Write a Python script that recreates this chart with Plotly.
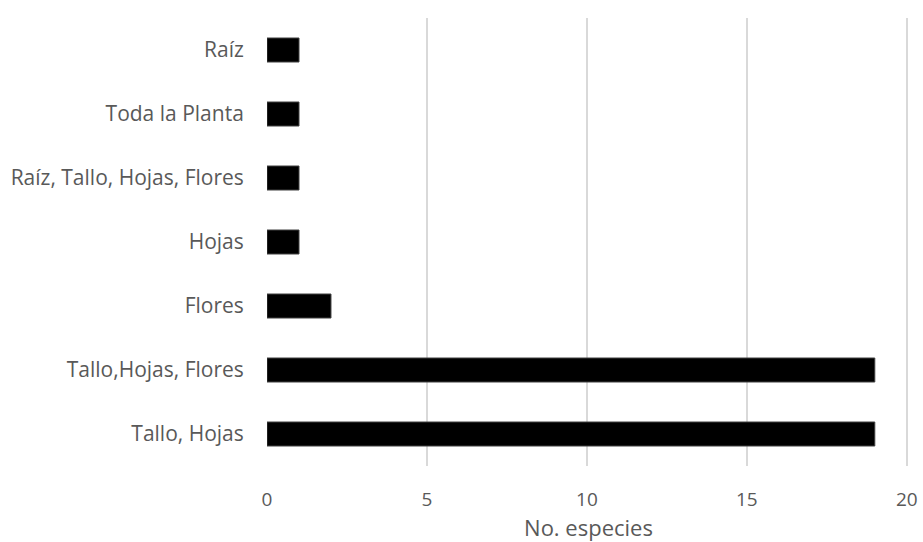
import plotly.graph_objects as go

# Plant part used and number of species
categorias = ["Tallo, Hojas", "Tallo,Hojas, Flores", "Flores", "Hojas",
              "Raíz, Tallo, Hojas, Flores", "Toda la Planta", "Raíz"]
especies = [19, 19, 2, 1, 1, 1, 1]
ticks_x = [0, 5, 10, 15, 20]

fig = go.Figure(go.Bar(
    x=especies,
    y=categorias,
    orientation="h",
    marker=dict(color="#000000", line=dict(color="#404040", width=1)),
))

fig.update_layout(
    width=923, height=542,
    margin=dict(l=267, r=13, t=18, b=76, autoexpand=False),
    paper_bgcolor="white", plot_bgcolor="white",
    bargap=0.625,
    showlegend=False,
    font=dict(family="Open Sans, Liberation Sans, sans-serif", color="#595959", size=19),
    xaxis=dict(
        range=[0, 20.1], tickvals=ticks_x, automargin=False,
        showgrid=True, gridcolor="#d9d9d9", gridwidth=1.5,
        zeroline=False, showline=False,
        ticks="outside", ticklen=16, tickcolor="rgba(0,0,0,0)",
        tickfont=dict(size=19, color="#595959"),
        title=dict(text="No. especies", font=dict(size=22, color="#595959"), standoff=11),
    ),
    yaxis=dict(
        categoryorder="array", categoryarray=categorias, automargin=False,
        showgrid=False, zeroline=False, showline=False,
        ticks="outside", ticklen=18, tickcolor="rgba(0,0,0,0)",
        tickfont=dict(size=21, color="#595959"),
    ),
)

fig.write_html("out.html")
